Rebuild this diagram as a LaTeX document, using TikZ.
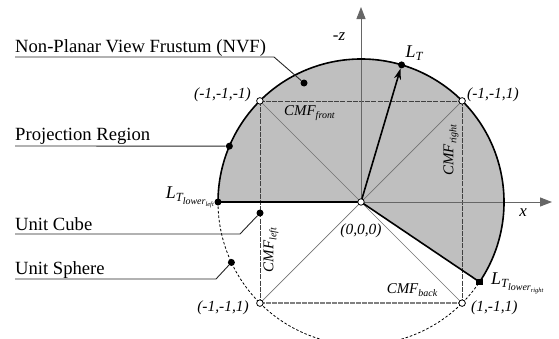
\documentclass[tikz,border=0pt]{standalone}
\usepackage{fontspec}
\setmainfont{Liberation Serif}
\usetikzlibrary{arrows.meta}
\newcommand\cmfsub[1]{CMF\raisebox{-2.8bp}{\fontsize{10}{10}\selectfont #1}}
\newcommand\ltsub[1]{{\fontsize{18}{18}\selectfont L}\raisebox{-3bp}{\fontsize{12.5}{12}\selectfont T\raisebox{-3bp}{\fontsize{10}{10}\selectfont lower\raisebox{-2bp}{\fontsize{6.5}{6}\selectfont #1}}}}
\begin{document}
\begin{tikzpicture}[x=1bp,y=1bp,
  lbl/.style={font=\fontsize{18.7}{20}\selectfont, inner sep=0},
  coordlbl/.style={font=\fontsize{15.5}{16}\selectfont\itshape, inner sep=0},
  cmf/.style={font=\fontsize{15}{15}\selectfont\itshape, inner sep=0},
  axlbl/.style={font=\fontsize{17}{17}\selectfont\itshape, inner sep=0},
  bdot/.style={circle, fill=black, inner sep=0, minimum size=7bp},
  wdot/.style={circle, draw=black, fill=white, line width=0.8bp, inner sep=0, minimum size=6.5bp},
  thickb/.style={line width=1.6bp},
  diag/.style={draw=black!55, line width=0.7bp},
  sqedge/.style={draw=black!75, line width=0.7bp, dash pattern=on 5bp off 1.2bp},
  sqbottom/.style={draw=black!50, line width=1.3bp, dash pattern=on 5bp off 1bp},
  axisline/.style={draw=black!60, line width=1bp, -{Triangle[length=12bp,width=9bp]}},
  leader/.style={draw=black!85, line width=0.9bp}
]
\useasboundingbox (0,0) rectangle (559,338);
\def\R{143}
\coordinate (O) at (361,136);
% shaded region
\fill[black!25] (O) -- ++(-34:\R) arc[start angle=-34, end angle=180, radius=\R] -- cycle;
% corners
\path (O) ++(135:\R) coordinate (TLc);
\path (O) ++(45:\R) coordinate (TRc);
\path (O) ++(225:\R) coordinate (BLc);
\path (O) ++(315:\R) coordinate (BRc);
\path (O) ++(180:\R) coordinate (LLc);
\path (O) ++(-34:\R) coordinate (LRc);
\path (O) ++(73.5:\R) coordinate (LTc);
\path (O) ++(157:\R) coordinate (PRc);
\path (O) ++(205:\R) coordinate (USc);
% square
\draw[sqedge] (TLc) -- (TRc);
\draw[sqedge] (TLc) -- (BLc);
\draw[sqedge] (TRc) -- (BRc);
\draw[sqbottom] (BLc) -- (BRc);
% diagonals
\draw[diag] (O) -- (TLc);
\draw[diag] (O) -- (TRc);
\draw[diag] (O) -- (BLc);
\draw[diag] (O) -- (BRc);
% axes
\coordinate (xend) at (552,136);
\coordinate (zend) at (361,331);
\draw[axisline] (O) -- (xend);
\draw[axisline] (O) -- (zend);
% lower dashed arc
\draw[line width=0.8bp, dash pattern=on 2.5bp off 2bp] (LLc) arc[start angle=180, end angle=326, radius=\R];
% thick boundary
\draw[thickb] (LLc) -- (O) -- (LRc);
\draw[thickb] (LRc) arc[start angle=-34, end angle=180, radius=\R];
% dots
\node[bdot] (LT) at (LTc) {};
\node[bdot] (LL) at (LLc) {};
\node[bdot, minimum size=6.5bp, rectangle] (LR) at (LRc) {};
\node[bdot] (dPR) at (PRc) {};
\node[bdot] (dUS) at (USc) {};
\node[bdot] (dUC) at (260,125) {};
\node[bdot] (dNVF) at (304,255) {};
% L_T arrow
\draw[thickb, -{Stealth[length=11bp,width=7bp]}] (O) -- (LT);
% white corner dots
\node[wdot] (TL) at (TLc) {};
\node[wdot] (TR) at (TRc) {};
\node[wdot] (BL) at (BLc) {};
\node[wdot] (BR) at (BRc) {};
\node[wdot] (Oc) at (O) {};
% left labels and leaders
\node[lbl, anchor=base west] (tNVF) at (15,286) {Non-Planar View Frustum (NVF)};
\coordinate (nvfA) at (15,281);
\coordinate (nvfB) at (274,281);
\draw[leader] (nvfA) -- (nvfB) -- (dNVF);
\node[lbl, anchor=base west] (tPR) at (15,198) {Projection Region};
\coordinate (prA) at (15,192);
\draw[leader] (prA) -- (dPR);
\node[lbl, anchor=base west] (tUC) at (15,108) {Unit Cube};
\coordinate (ucA) at (15,104);
\coordinate (ucB) at (240,104);
\draw[leader] (ucA) -- (ucB) -- (dUC);
\node[lbl, anchor=base west] (tUS) at (15,64) {Unit Sphere};
\coordinate (usA) at (15,59);
\coordinate (usB) at (216,59);
\draw[leader] (usA) -- (usB) -- (dUS);
% axis labels
\node[axlbl] (zl) at (339,301) {-z};
\node[axlbl] (xl) at (523,125) {x};
\node[axlbl] (ltl) at (414,285) {{\fontsize{18}{18}\selectfont L}\raisebox{-3bp}{\fontsize{12.5}{12}\selectfont T}};
\node[axlbl, anchor=east] (lll) at (214,141) {\ltsub{left}};
\node[axlbl, anchor=west] (lrl) at (491,55) {\ltsub{right}};
% CMF labels
\node[cmf, anchor=west] (cf) at (284,225) {\cmfsub{front}};
\node[cmf, rotate=90] (cr) at (451,188) {\cmfsub{right}};
\node[cmf, rotate=90] (cl) at (271,88) {\cmfsub{left}};
\node[cmf] (cb) at (412,48) {\cmfsub{back}};
% coordinate labels
\node[coordlbl] (l0) at (361,107) {(0,0,0)};
\node[coordlbl, anchor=east] (lTL) at (251,243) {(-1,-1,-1)};
\node[coordlbl, anchor=west] (lTR) at (467,243) {(-1,-1,1)};
\node[coordlbl, anchor=east] (lBL) at (249,30) {(-1,-1,1)};
\node[coordlbl, anchor=west] (lBR) at (471,30) {(1,-1,1)};
\end{tikzpicture}
\end{document}
